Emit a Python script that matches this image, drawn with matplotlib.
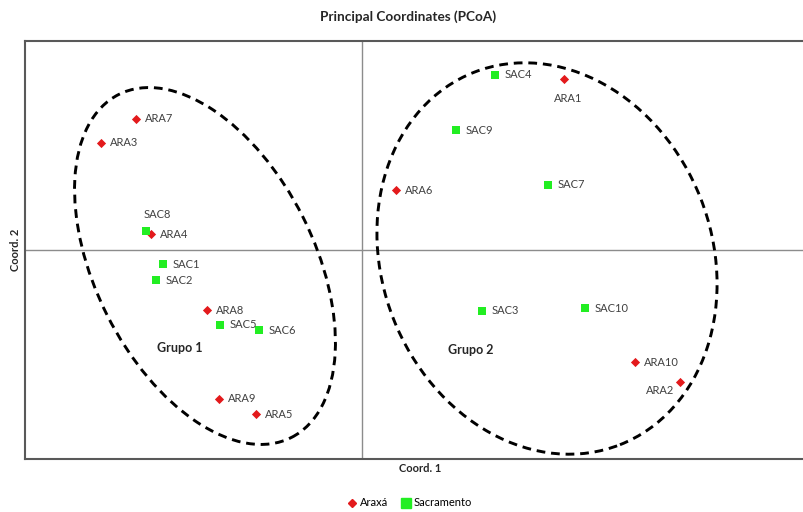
import matplotlib.pyplot as plt
from matplotlib.patches import Ellipse
from matplotlib.lines import Line2D

# coordenadas PCoA
ara_names = ['ARA1', 'ARA2', 'ARA3', 'ARA4', 'ARA5', 'ARA6', 'ARA7', 'ARA8', 'ARA9', 'ARA10']
ara_x = [2.02, 3.18, -2.61, -2.11, -1.06, 0.34, -2.26, -1.55, -1.43, 2.73]
ara_y = [1.71, -1.32, 1.07, 0.16, -1.64, 0.60, 1.31, -0.60, -1.49, -1.12]

sac_names = ['SAC1', 'SAC2', 'SAC3', 'SAC4', 'SAC5', 'SAC6', 'SAC7', 'SAC8', 'SAC9', 'SAC10']
sac_x = [-1.99, -2.06, 1.20, 1.33, -1.42, -1.03, 1.86, -2.16, 0.94, 2.23]
sac_y = [-0.14, -0.30, -0.61, 1.75, -0.75, -0.80, 0.65, 0.19, 1.20, -0.58]

# deslocamento dos rotulos (pixels)
ara_off = {'ARA1': (4, -20), 'ARA2': (-20, -8)}
sac_off = {'SAC8': (11, 17)}

fig = plt.figure(figsize=(8.04, 5.12), dpi=100)
ax = fig.add_axes([25 / 804, 53 / 512, 790 / 804, 418 / 512])
ax.set_xlim(-3.37, 4.53)
ax.set_ylim(-2.09, 2.09)
ax.set_xticks([])
ax.set_yticks([])
for s in ax.spines.values():
    s.set_color('#595959')
    s.set_linewidth(1.5)

ax.axhline(0, color='#8c8c8c', lw=1, zorder=1)
ax.axvline(0, color='#8c8c8c', lw=1, zorder=1)

ax.add_patch(Ellipse((-1.57, -0.16), 2.19, 3.84, angle=26.7, fill=False,
                     ls=(0, (3, 2)), lw=2.1, color='black'))
ax.add_patch(Ellipse((1.85, -0.085), 3.30, 4.0, angle=21.4, fill=False,
                     ls=(0, (3, 2)), lw=2.1, color='black'))

ax.scatter(ara_x, ara_y, marker='D', s=22, color='#e31a1c', zorder=3, lw=0)
ax.scatter(sac_x, sac_y, marker='s', s=40, color='#22ee22', zorder=3, lw=0)

lab = dict(fontsize=8, color='#404040', family='Lato', va='center')
for n, x, y in zip(ara_names, ara_x, ara_y):
    dx, dy = ara_off.get(n, (9, 0))
    ax.annotate(n, (x, y), xytext=(dx, dy), textcoords='offset pixels',
                ha='left' if n not in ara_off else 'center', **lab)
for n, x, y in zip(sac_names, sac_x, sac_y):
    dx, dy = sac_off.get(n, (10, 0))
    ax.annotate(n, (x, y), xytext=(dx, dy), textcoords='offset pixels',
                ha='left' if n not in sac_off else 'center', **lab)

ax.text(-1.82, -0.98, 'Grupo 1', fontsize=9, fontweight='bold', family='Lato',
        color='#262626', ha='center', va='center')
ax.text(1.09, -1.00, 'Grupo 2', fontsize=9, fontweight='bold', family='Lato',
        color='#262626', ha='center', va='center')

fig.text(408 / 804, 1 - 17 / 512, 'Principal Coordinates (PCoA)', fontsize=9.8,
         fontweight='bold', family='Lato', ha='center', va='center', color='#262626')
fig.text(420 / 804, 1 - 468 / 512, 'Coord. 1', fontsize=8, fontweight='bold',
         family='Lato', ha='center', va='center', color='#262626')
fig.text(16 / 804, 1 - 250 / 512, 'Coord. 2', fontsize=8, fontweight='bold',
         family='Lato', ha='center', va='center', rotation=90, color='#262626')

handles = [Line2D([], [], marker='D', ls='', color='#e31a1c', markersize=4.5, label='Araxá'),
           Line2D([], [], marker='s', ls='', color='#22ee22', markersize=6.5, label='Sacramento')]
fig.legend(handles=handles, loc='center', bbox_to_anchor=(410 / 804, 1 - 503 / 512),
           ncol=2, frameon=False, prop={'family': 'Lato', 'size': 8},
           handletextpad=0.3, columnspacing=1.2, handlelength=0.8)

fig.savefig('out.png', dpi=100)
